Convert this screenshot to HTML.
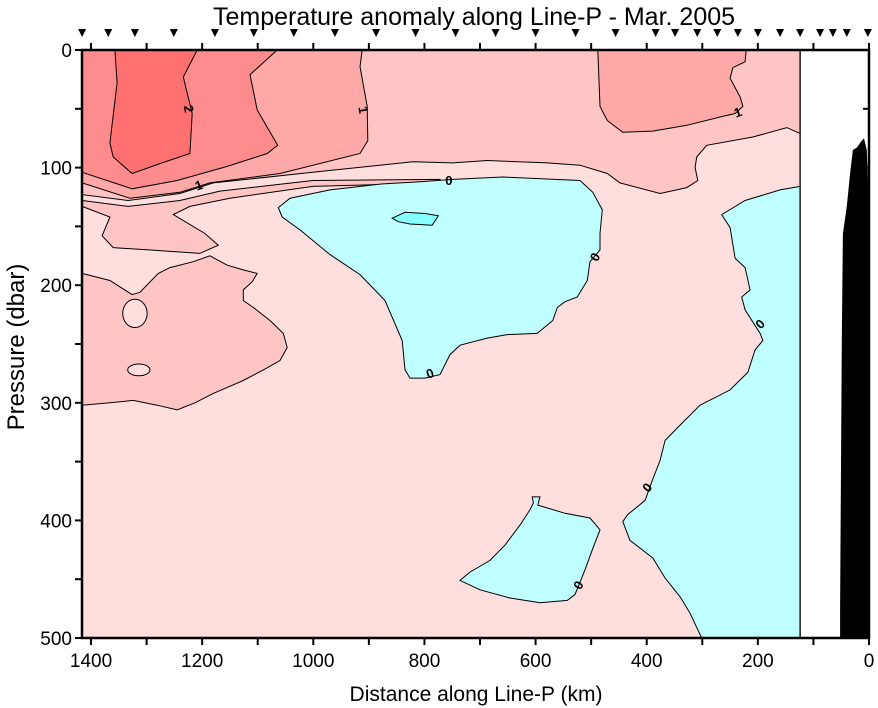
<!DOCTYPE html>
<html><head><meta charset="utf-8"><style>
html,body{margin:0;padding:0;background:#fff;}
svg{display:block;font-family:"Liberation Sans",sans-serif;}
</style></head><body>
<svg id="chart" width="878" height="708" viewBox="0 0 878 708"></svg>
<script>
// ---- data (km, dbar) ----
const xTicks = [1400,1300,1200,1100,1000,900,800,700,600,500,400,300,200,100,0];
const xTickLabels = ["1400","1200","1000","800","600","400","200","0"];
const yTicks = [0,50,100,150,200,250,300,350,400,450,500];
const yTickLabels = ["0","100","200","300","400","500"];
const stations = [1416,1369,1321,1251,1177,1107,1035,961,887,816,744,672,600,528,456,384,349,309,273,236,200,160,124,88,65,40,2];
const dataLimitKm = 124;

const bandPink05 = [[1416,0],[124,0],[124,71],[148,66],[209,74],[292,81],[310,91],[313,100],[308,111],[328,117],[376,122],[448,113],[471,105],[520,98],[579,96],[687,94],[749,96],[821,95],[1001,104],[1180,113],[1240,122],[1333,128],[1416,123]];
const lobePink05 = [[1416,128],[1333,133],[1240,128],[1168,120],[1001,111],[772,110],[772,113],[1001,116],[1150,126],[1222,133],[1252,140],[1195,156],[1171,166],[1204,173],[1297,170],[1360,168],[1380,158],[1366,142],[1416,133]];
const lowerPink05 = [[1416,190],[1366,196],[1326,208],[1312,206],[1279,190],[1258,185],[1216,180],[1186,175],[1155,183],[1126,187],[1101,190],[1110,197],[1126,204],[1126,213],[1108,219],[1078,230],[1054,241],[1047,253],[1060,264],[1090,272],[1126,281],[1180,292],[1213,300],[1245,306],[1281,302],[1324,298],[1366,300],[1416,302]];
const holes = [[1321,224,22,12],[1314,272,20,5]];
const band10Left = [[1416,0],[912,0],[916,14],[903,48],[902,77],[916,88],[1060,105],[1186,113],[1240,121],[1330,126],[1416,113]];
const band15Left = [[1416,0],[1065,0],[1114,21],[1101,51],[1064,81],[1083,88],[1155,99],[1245,111],[1326,118],[1416,104]];
const band20Core = [[1357,0],[1209,0],[1234,23],[1218,54],[1222,88],[1272,96],[1326,105],[1360,91],[1366,79],[1353,28]];
const band10Right = [[488,0],[484,48],[471,60],[443,70],[389,69],[328,64],[268,57],[241,54],[227,48],[232,40],[250,24],[245,15],[223,10],[221,0]];
const cyanMid = [[808,112],[749,110],[659,108],[520,111],[497,121],[480,136],[484,156],[484,170],[502,180],[507,196],[525,210],[547,214],[561,219],[569,230],[597,241],[651,242],[687,245],[736,251],[754,259],[772,276],[799,279],[826,279],[835,272],[840,247],[871,213],[916,191],[970,174],[1024,153],[1056,142],[1063,134],[1042,126],[970,119],[880,114]];
const cyanBlob = [[858,143],[835,138],[799,139],[775,141],[786,149],[826,148],[847,146]];
const cyanRight = [[124,116],[160,119],[223,128],[265,140],[250,151],[241,177],[223,185],[214,204],[229,210],[223,221],[196,241],[191,247],[205,255],[218,274],[250,289],[304,302],[340,319],[367,332],[376,349],[390,366],[403,383],[434,395],[443,401],[430,417],[389,432],[367,449],[340,465],[322,479],[301,500],[124,500]];
const cyanSmall = [[606,380],[592,380],[596,387],[547,394],[502,398],[484,408],[498,425],[511,442],[529,463],[543,468],[592,470],[646,466],[700,459],[736,451],[718,444],[682,434],[655,421],[628,404],[610,391],[604,385]];
const bathymetry = [[52,500],[52,474],[49,247],[47,156],[40,133],[34,105],[29,85],[22,83],[13,77],[9,75],[4,85],[2,111],[0,119],[0,500]];
const contourLabels = [["2",1224,50,80],["1",910,51,80],["1",1206,115,-20],["1",236,53,-20],["0",756,111,0],["0",493,176,-60],["0",196,233,-45],["0",790,275,-20],["0",399,372,-50],["0",523,455,-60]];

// ---- axes ----
const X0=869, PXKM=0.5557, Y0=50, PXDB=1.176;
const x = km => X0 - km*PXKM;
const y = db => Y0 + db*PXDB;
const L=82, R=869, T=50, B=638;
const NS="http://www.w3.org/2000/svg";
const svg=document.getElementById('chart');
function mk(tag, attrs, parent){const e=document.createElementNS(NS,tag);for(const k in attrs)e.setAttribute(k,attrs[k]);(parent||svg).appendChild(e);return e;}
function pts(arr){return arr.map(p=>x(p[0]).toFixed(1)+','+y(p[1]).toFixed(1)).join(' ');}

let e;
e=mk('rect',{x:L,y:T,width:x(dataLimitKm)-L,height:B-T,fill:'#FFDEDE'});


const polys=[[bandPink05,'#FFC4C4','anomaly-0.5-to-1-upper'],[lobePink05,'#FFC4C4','anomaly-0.5-lobe'],[lowerPink05,'#FFC4C4','anomaly-0.5-lower'],[band10Left,'#FFA8A8','anomaly-1-to-1.5-left'],[band15Left,'#FF8C8C','anomaly-1.5-to-2'],[band20Core,'#FF7070','anomaly-above-2'],[band10Right,'#FFA8A8','anomaly-1-to-1.5-right'],[cyanMid,'#BFFFFF','anomaly-negative-middle'],[cyanBlob,'#88FFFF','anomaly-negative-core'],[cyanRight,'#BFFFFF','anomaly-negative-right'],[cyanSmall,'#BFFFFF','anomaly-negative-small']];
polys.forEach((p,i)=>{
  e=mk('polygon',{points:pts(p[0]),fill:p[1],stroke:'#000','stroke-width':1});
  
  
  if(i===2){holes.forEach(h=>{
    const he=mk('ellipse',{cx:x(h[0]),cy:y(h[1]),rx:h[2]*PXKM,ry:h[3]*PXDB,fill:'#FFDEDE',stroke:'#000','stroke-width':1});
    
    
  });}
});
e=mk('line',{x1:x(dataLimitKm),y1:T,x2:x(dataLimitKm),y2:B,stroke:'#000','stroke-width':1.3});


e=mk('polygon',{points:pts(bathymetry),fill:'#000'});



contourLabels.forEach(c=>{
  const t=mk('text',{x:x(c[1]),y:y(c[2]),'font-size':13,'font-weight':'bold','text-anchor':'middle','dominant-baseline':'central',transform:`rotate(${c[3]} ${x(c[1])} ${y(c[2])})`});
  t.textContent=c[0];
  
  
});

e=mk('rect',{x:L,y:T,width:R-L,height:B-T,fill:'none',stroke:'#000','stroke-width':2.5});



xTicks.forEach(k=>{
  e=mk('line',{x1:x(k),y1:B,x2:x(k),y2:B+7,stroke:'#000','stroke-width':2});
  
  
  e=mk('line',{x1:x(k),y1:T,x2:x(k),y2:T-7,stroke:'#000','stroke-width':2});
  
  
});
xTickLabels.forEach(s=>{
  const t=mk('text',{x:x(+s),y:667,'font-size':19,'text-anchor':'middle'});
  t.textContent=s;
  
  
});
yTicks.forEach(d=>{
  e=mk('line',{x1:L-7,y1:y(d),x2:L,y2:y(d),stroke:'#000','stroke-width':2});
  
  
  e=mk('line',{x1:R-6,y1:y(d),x2:R,y2:y(d),stroke:'#000','stroke-width':2});
  
  
});
yTickLabels.forEach(s=>{
  const t=mk('text',{x:72,y:y(+s)+7,'font-size':19,'text-anchor':'end'});
  t.textContent=s;
  
  
});
stations.forEach(k=>{
  const cx=x(k);
  e=mk('polygon',{points:`${cx-4},29 ${cx+4},29 ${cx},37`,fill:'#000'});
  
  
});
let t=mk('text',{x:474,y:25,'font-size':25,'text-anchor':'middle'});
t.textContent='Temperature anomaly along Line-P - Mar. 2005';


t=mk('text',{x:476,y:701,'font-size':21,'text-anchor':'middle'});
t.textContent='Distance along Line-P (km)';


t=mk('text',{x:24,y:347,'font-size':24,'text-anchor':'middle',transform:'rotate(-90 24 347)'});
t.textContent='Pressure (dbar)';


</script>
</body></html>
